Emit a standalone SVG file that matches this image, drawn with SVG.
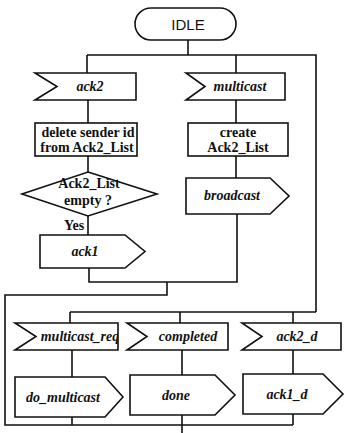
<svg xmlns="http://www.w3.org/2000/svg" width="346" height="433" viewBox="0 0 346 433">
<style>
.s{fill:#fff;stroke:#111;stroke-width:1.6}
.c{fill:none;stroke:#111;stroke-width:1.6}
.t{font-family:"Liberation Serif",serif;font-size:14px;font-weight:bold;fill:#111;text-anchor:middle}
.i{font-style:italic}
.h{font-family:"Liberation Sans",sans-serif;font-size:15px;fill:#111;text-anchor:middle}
</style>
<defs>
<clipPath id="cp1"><polygon points="15,323 118,323 118,350 15,350 36,336.5"/></clipPath>
<clipPath id="cp2"><rect x="35" y="123" width="102" height="33"/></clipPath>
</defs>
<rect width="346" height="433" fill="#fff"/>
<g id="connectors">
<path class="c" d="M188,40V55M87,55H316V312M87,55V73M236,55V73M88,100V123M88,156V172M88,216V235M89,268V282H237V214M236,100V123M236,156V178M167,282V295H5V425H293M70,312H316M70,312V323M180,312V323M293,312V323M72,350V377M182,350V375M293,350V374M72,417V425M182,415V433M293,414V425"/>
</g>
<g id="idle">
<rect class="s" x="135" y="8" width="101" height="32" rx="16"/>
<text class="h" x="188" y="30">IDLE</text>
</g>
<g id="ack2">
<polygon class="s" points="35,73 136,73 136,100 35,100 57,86.5"/>
<text class="t i" x="90" y="91">ack2</text>
</g>
<g id="delete">
<rect class="s" x="35" y="123" width="102" height="33"/>
<g clip-path="url(#cp2)">
<text class="t" x="88" y="137">delete sender id</text>
<text class="t" x="87" y="152">from Ack2_List</text>
</g>
</g>
<g id="decision">
<polygon class="s" points="88,172 157,194 88,216 22,194"/>
<text class="t" x="89" y="188">Ack2_List</text>
<text class="t" x="88" y="205">empty ?</text>
<text class="t" x="74" y="230">Yes</text>
</g>
<g id="ack1">
<polygon class="s" points="40,235 125,235 145,251.5 125,268 40,268"/>
<text class="t i" x="85" y="256">ack1</text>
</g>
<g id="multicast">
<polygon class="s" points="186,73 285,73 285,100 186,100 205,86.5"/>
<text class="t i" x="240" y="91">multicast</text>
</g>
<g id="create">
<rect class="s" x="188" y="123" width="100" height="33"/>
<text class="t" x="238" y="137">create</text>
<text class="t" x="238" y="152">Ack2_List</text>
</g>
<g id="broadcast">
<polygon class="s" points="186,178 270,178 289,196 270,214 186,214"/>
<text class="t i" x="232" y="200">broadcast</text>
</g>
<g id="multicast_req">
<polygon class="s" points="15,323 118,323 118,350 15,350 36,336.5"/>
<g clip-path="url(#cp1)">
<text class="t i" x="80" y="341">multicast_req</text>
</g>
</g>
<g id="completed">
<polygon class="s" points="127,323 228,323 228,350 127,350 147,336.5"/>
<text class="t i" x="188" y="341">completed</text>
</g>
<g id="ack2_d">
<polygon class="s" points="242,323 341,323 341,350 242,350 262,336.5"/>
<text class="t i" x="297" y="341">ack2_d</text>
</g>
<g id="do_multicast">
<polygon class="s" points="15,377 105,377 123,397 105,417 15,417"/>
<text class="t i" x="63" y="402">do_multicast</text>
</g>
<g id="done">
<polygon class="s" points="130,375 215,375 235,395 215,415 130,415"/>
<text class="t i" x="176" y="400">done</text>
</g>
<g id="ack1_d">
<polygon class="s" points="243,374 323,374 343,394 323,414 243,414"/>
<text class="t i" x="287" y="399">ack1_d</text>
</g>
</svg>
